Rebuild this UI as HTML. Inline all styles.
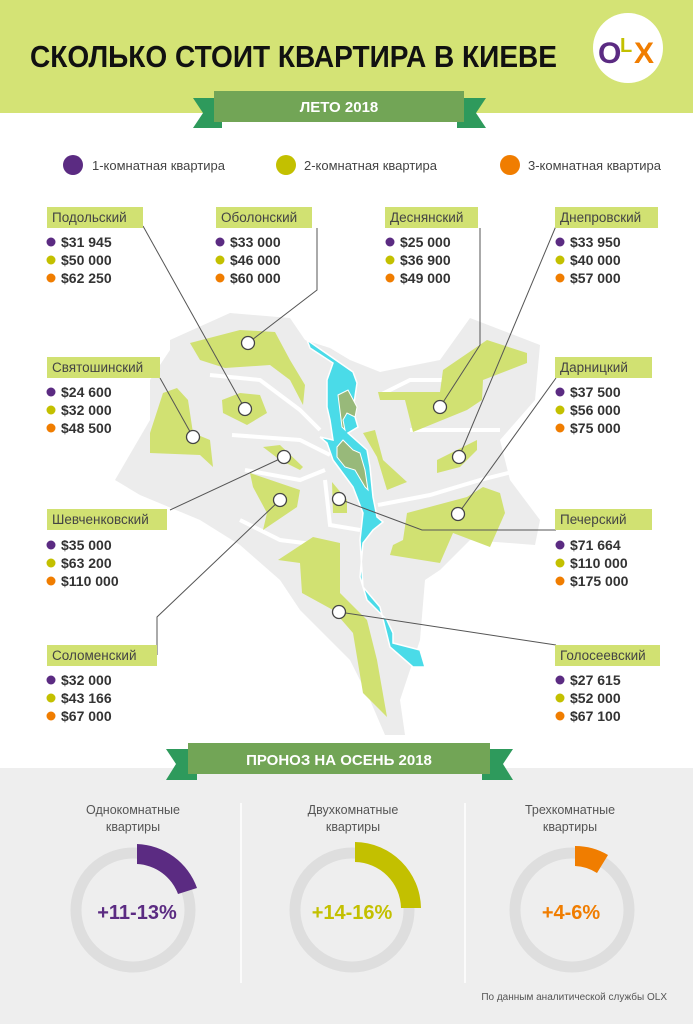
<!DOCTYPE html>
<html><head><meta charset="utf-8"><style>
html,body{margin:0;padding:0;background:#fff;}
svg{display:block;font-family:"Liberation Sans",sans-serif;}
.lb{font-size:13.5px;fill:#444;}
.pr{font-size:14px;fill:#333;font-weight:bold;}
</style></head><body>
<svg width="693" height="1024" viewBox="0 0 693 1024" xmlns="http://www.w3.org/2000/svg">
<rect x="0" y="0" width="693" height="113" fill="#d4e375"/>
<text x="30" y="67" font-size="31" font-weight="bold" fill="#111" textLength="527" lengthAdjust="spacingAndGlyphs">СКОЛЬКО СТОИТ КВАРТИРА В КИЕВЕ</text>
<circle cx="628" cy="48" r="35" fill="#fff"/>
<text x="598" y="63" font-size="30" font-weight="bold" fill="#5b2b82">O</text>
<text x="620" y="52" font-size="20" font-weight="bold" fill="#c3c000">L</text>
<text x="634" y="63" font-size="30" font-weight="bold" fill="#f07d00">X</text>
<!-- ribbon 1 -->
<polygon points="193,98 222,98 222,128 193,128 203,113" fill="#2e9a5c"/>
<polygon points="486,98 457,98 457,128 486,128 476,113" fill="#2e9a5c"/>
<rect x="214" y="91" width="250" height="31" fill="#72a556"/>
<text x="339" y="112" font-size="15" font-weight="bold" fill="#fff" text-anchor="middle">ЛЕТО 2018</text>
<!-- legend -->
<circle cx="73" cy="165" r="10" fill="#5b2b82"/><text x="92" y="170" font-size="13" fill="#444">1-комнатная квартира</text>
<circle cx="286" cy="165" r="10" fill="#c3c000"/><text x="304" y="170" font-size="13" fill="#444">2-комнатная квартира</text>
<circle cx="510" cy="165" r="10" fill="#f07d00"/><text x="528" y="170" font-size="13" fill="#444">3-комнатная квартира</text>
<!-- map -->
<polygon points="170,340 230,313 290,318 305,340 330,348 350,360 380,372 440,360 470,318 540,345 535,400 500,440 510,480 540,520 535,545 470,540 440,570 425,580 420,640 410,670 400,700 405,735 385,735 370,700 350,660 330,640 300,610 280,580 240,545 200,520 140,495 115,480 150,420 150,380 170,350" fill="#ececec"/>
<g fill="none" stroke="#fff" stroke-width="4">
<polyline points="210,375 260,380 300,410 320,430"/>
<polyline points="232,435 300,440 330,455"/>
<polyline points="245,470 300,480 325,470"/>
<polyline points="325,480 330,525 360,530"/>
<polyline points="378,505 430,495 480,480 520,470"/>
<polyline points="380,395 410,380 470,380 500,360"/>
<polyline points="410,430 470,430 500,430"/>
<polyline points="240,520 280,540 320,545"/>
</g>
<g fill="#d1e172">
<polygon points="190,343 240,330 275,332 290,360 305,385 303,405 290,380 270,365 225,368 200,360"/>
<polygon points="222,400 240,393 260,395 267,413 247,425 223,413"/>
<polygon points="150,433 163,393 177,388 188,400 193,433 210,440 213,467 200,455 150,453"/>
<polygon points="263,447 280,445 303,467 300,470 280,460"/>
<polygon points="250,473 300,490 297,507 263,530 267,513 253,487"/>
<polygon points="332,482 347,500 347,513 333,513"/>
<polygon points="363,433 375,430 383,460 407,482 387,490 377,457"/>
<polygon points="378,392 440,392 443,370 487,340 527,353 527,363 483,380 482,400 467,410 413,432 405,400 380,400"/>
<polygon points="437,460 477,440 477,450 460,467 437,473"/>
<polygon points="407,513 467,497 483,487 500,493 505,513 490,547 453,533 440,563 390,555 393,545 403,540"/>
<polygon points="278,560 313,537 340,543 340,593 367,620 377,660 387,717 363,693 353,633 333,610 302,593 300,563"/>
</g>
<polygon points="307,340 353,372 357,383 353,410 358,427 348,433 367,450 370,467 373,497 377,517 383,522 373,530 363,543 360,577 367,600 387,620 393,633 393,643 420,650 425,667 413,667 390,647 380,607 363,587 360,540 363,513 353,487 333,460 327,443 320,437 333,440 330,420 327,407 327,380 333,363 310,348" fill="#4adbe8" stroke="#fff" stroke-width="1.5"/>
<g fill="#98b97a" stroke="#fff" stroke-width="1">
<polygon points="338,395 348,390 357,407 355,417 347,413 343,420 345,430 342,427"/>
<polygon points="337,447 343,440 353,450 360,453 365,470 368,490 365,487 355,470 345,467 337,457"/>
</g>
<!-- connectors -->
<g fill="none" stroke="#555" stroke-width="1">
<polyline points="143,226 245,409"/>
<polyline points="317,228 317,290 248,343"/>
<polyline points="480,228 480,345 440,407"/>
<polyline points="556,226 459,457"/>
<polyline points="160,378 193,437"/>
<polyline points="556,378 458,514"/>
<polyline points="170,510 284,457"/>
<polyline points="157,655 157,617 280,500"/>
<polyline points="339,499 422,530 556,530"/>
<polyline points="339,612 556,645"/>
</g>
<g fill="#fff" stroke="#444" stroke-width="1.3">
<circle cx="248" cy="343" r="6.5"/><circle cx="245" cy="409" r="6.5"/><circle cx="193" cy="437" r="6.5"/>
<circle cx="284" cy="457" r="6.5"/><circle cx="280" cy="500" r="6.5"/><circle cx="339" cy="499" r="6.5"/>
<circle cx="339" cy="612" r="6.5"/><circle cx="440" cy="407" r="6.5"/><circle cx="459" cy="457" r="6.5"/>
<circle cx="458" cy="514" r="6.5"/>
</g>
<!-- labels -->
<g>
<rect x="47" y="207" width="96" height="21" fill="#d1e172"/><text class="lb" x="52" y="222">Подольский</text>
<rect x="216" y="207" width="96" height="21" fill="#d1e172"/><text class="lb" x="221" y="222">Оболонский</text>
<rect x="385" y="207" width="93" height="21" fill="#d1e172"/><text class="lb" x="390" y="222">Деснянский</text>
<rect x="555" y="207" width="103" height="21" fill="#d1e172"/><text class="lb" x="560" y="222">Днепровский</text>
<rect x="47" y="357" width="113" height="21" fill="#d1e172"/><text class="lb" x="52" y="372">Святошинский</text>
<rect x="555" y="357" width="97" height="21" fill="#d1e172"/><text class="lb" x="560" y="372">Дарницкий</text>
<rect x="47" y="509" width="120" height="21" fill="#d1e172"/><text class="lb" x="52" y="524">Шевченковский</text>
<rect x="555" y="509" width="97" height="21" fill="#d1e172"/><text class="lb" x="560" y="524">Печерский</text>
<rect x="47" y="645" width="110" height="21" fill="#d1e172"/><text class="lb" x="52" y="660">Соломенский</text>
<rect x="555" y="645" width="105" height="21" fill="#d1e172"/><text class="lb" x="560" y="660">Голосеевский</text>
</g>
<g id="prices">
<g fill="#5b2b82"><circle cx="51" cy="242" r="4.5"/><circle cx="220" cy="242" r="4.5"/><circle cx="390" cy="242" r="4.5"/><circle cx="560" cy="242" r="4.5"/>
<circle cx="51" cy="392" r="4.5"/><circle cx="560" cy="392" r="4.5"/><circle cx="51" cy="545" r="4.5"/><circle cx="560" cy="545" r="4.5"/><circle cx="51" cy="680" r="4.5"/><circle cx="560" cy="680" r="4.5"/></g>
<g fill="#c3c000"><circle cx="51" cy="260" r="4.5"/><circle cx="220" cy="260" r="4.5"/><circle cx="390" cy="260" r="4.5"/><circle cx="560" cy="260" r="4.5"/>
<circle cx="51" cy="410" r="4.5"/><circle cx="560" cy="410" r="4.5"/><circle cx="51" cy="563" r="4.5"/><circle cx="560" cy="563" r="4.5"/><circle cx="51" cy="698" r="4.5"/><circle cx="560" cy="698" r="4.5"/></g>
<g fill="#f07d00"><circle cx="51" cy="278" r="4.5"/><circle cx="220" cy="278" r="4.5"/><circle cx="390" cy="278" r="4.5"/><circle cx="560" cy="278" r="4.5"/>
<circle cx="51" cy="428" r="4.5"/><circle cx="560" cy="428" r="4.5"/><circle cx="51" cy="581" r="4.5"/><circle cx="560" cy="581" r="4.5"/><circle cx="51" cy="716" r="4.5"/><circle cx="560" cy="716" r="4.5"/></g>
<text class="pr" x="61" y="247">$31 945</text><text class="pr" x="61" y="265">$50 000</text><text class="pr" x="61" y="283">$62 250</text>
<text class="pr" x="230" y="247">$33 000</text><text class="pr" x="230" y="265">$46 000</text><text class="pr" x="230" y="283">$60 000</text>
<text class="pr" x="400" y="247">$25 000</text><text class="pr" x="400" y="265">$36 900</text><text class="pr" x="400" y="283">$49 000</text>
<text class="pr" x="570" y="247">$33 950</text><text class="pr" x="570" y="265">$40 000</text><text class="pr" x="570" y="283">$57 000</text>
<text class="pr" x="61" y="397">$24 600</text><text class="pr" x="61" y="415">$32 000</text><text class="pr" x="61" y="433">$48 500</text>
<text class="pr" x="570" y="397">$37 500</text><text class="pr" x="570" y="415">$56 000</text><text class="pr" x="570" y="433">$75 000</text>
<text class="pr" x="61" y="550">$35 000</text><text class="pr" x="61" y="568">$63 200</text><text class="pr" x="61" y="586">$110 000</text>
<text class="pr" x="570" y="550">$71 664</text><text class="pr" x="570" y="568">$110 000</text><text class="pr" x="570" y="586">$175 000</text>
<text class="pr" x="61" y="685">$32 000</text><text class="pr" x="61" y="703">$43 166</text><text class="pr" x="61" y="721">$67 000</text>
<text class="pr" x="570" y="685">$27 615</text><text class="pr" x="570" y="703">$52 000</text><text class="pr" x="570" y="721">$67 100</text>
</g>
<!-- bottom -->
<rect x="0" y="768" width="693" height="256" fill="#eeeeee"/>
<polygon points="166,749 197,749 197,780 166,780 176,764" fill="#2e9a5c"/>
<polygon points="513,749 482,749 482,780 513,780 503,764" fill="#2e9a5c"/>
<rect x="188" y="743" width="302" height="31" fill="#72a556"/>
<text x="339" y="765" font-size="15" font-weight="bold" fill="#fff" text-anchor="middle">ПРОНОЗ НА ОСЕНЬ 2018</text>
<line x1="241" y1="803" x2="241" y2="983" stroke="#fff" stroke-width="1.5"/>
<line x1="465" y1="803" x2="465" y2="983" stroke="#fff" stroke-width="1.5"/>
<g font-size="12.5" fill="#555" text-anchor="middle">
<text x="133" y="814">Однокомнатные</text><text x="133" y="831">квартиры</text>
<text x="353" y="814">Двухкомнатные</text><text x="353" y="831">квартиры</text>
<text x="570" y="814">Трехкомнатные</text><text x="570" y="831">квартиры</text>
</g>
<g fill="none" stroke="#dedede" stroke-width="11">
<circle cx="133" cy="910" r="57"/><circle cx="352" cy="910" r="57"/><circle cx="572" cy="910" r="57"/>
</g>
<path d="M137,844 A66,66 0 0 1 197,888 L178,894 A46,46 0 0 0 137,864 Z" fill="#5b2b82"/>
<path d="M355,842 A67,67 0 0 1 421,908 L401,908 A47,47 0 0 0 355,862 Z" fill="#c3c000"/>
<path d="M575,846 A64,64 0 0 1 608,855 L597,873 A44,44 0 0 0 575,866 Z" fill="#f07d00"/>
<g font-size="20" font-weight="bold" text-anchor="middle">
<text x="137" y="919" fill="#5b2b82">+11-13%</text>
<text x="352" y="919" fill="#c3c000">+14-16%</text>
<text x="571" y="919" fill="#f07d00">+4-6%</text>
</g>
<text x="667" y="1000" font-size="10" fill="#555" text-anchor="end">По данным аналитической службы OLX</text>
</svg>
</body></html>
